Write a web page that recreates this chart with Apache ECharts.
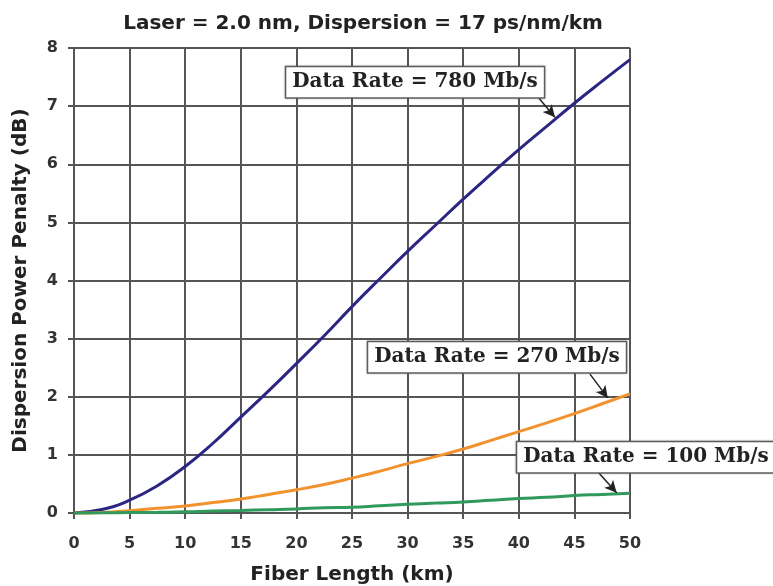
<!DOCTYPE html>
<html><head><meta charset="utf-8">
<script src="https://cdn.jsdelivr.net/npm/echarts@6/dist/echarts.min.js"></script>
<style>html,body{margin:0;padding:0;background:#fff}#c{width:773px;height:586px}</style>
</head><body><div id="c"></div>
<script>
const title = 'Laser = 2.0 nm, Dispersion = 17 ps/nm/km';
const xName = 'Fiber Length (km)';
const yName = 'Dispersion Power Penalty (dB)';
const lengths = [0, 2.5, 5, 7.5, 10, 12.5, 15, 17.5, 20, 22.5, 25, 27.5, 30, 32.5, 35, 37.5, 40, 42.5, 45, 47.5, 50];
const rate780 = [0, 0.06, 0.22, 0.47, 0.8, 1.2, 1.65, 2.1, 2.57, 3.05, 3.55, 4.03, 4.5, 4.95, 5.4, 5.83, 6.25, 6.65, 7.05, 7.43, 7.8];
const rate270 = [0, 0.01, 0.04, 0.08, 0.12, 0.18, 0.24, 0.32, 0.4, 0.49, 0.6, 0.72, 0.85, 0.97, 1.1, 1.25, 1.4, 1.55, 1.71, 1.88, 2.05];
const rate100 = [0, 0.003, 0.008, 0.013, 0.02, 0.035, 0.045, 0.057, 0.07, 0.09, 0.1, 0.125, 0.15, 0.17, 0.19, 0.22, 0.25, 0.27, 0.3, 0.32, 0.34];
const labels = ['Data Rate = 780 Mb/s', 'Data Rate = 270 Mb/s', 'Data Rate = 100 Mb/s'];
const labelAt = [[30.67, 7.41], [38.04, 2.68], [51.44, 0.96]];
const arrowFrom = [[41.7, 7.16], [46.4, 2.39], [47.1, 0.71]];
const arrowTo = [[43.25, 6.81], [48.0, 1.98], [48.8, 0.35]];
const colors = ['#2b2583', '#f2922e', '#2f9a5c'];

const chart = echarts.init(document.getElementById('c'));
const sets = [rate780, rate270, rate100];
const font = 'DejaVu Sans';
const series = sets.map((d, i) => ({
  type: 'line', data: lengths.map((x, j) => [x, d[j]]), smooth: true, showSymbol: false,
  lineStyle: {color: colors[i], width: 3}, clip: false, z: 3,
  markLine: {
    silent: true, symbol: ['none', 'arrow'], symbolSize: [9, 12],
    lineStyle: {color: '#222', width: 1.5, type: 'solid'}, label: {show: false},
    data: [[{coord: arrowFrom[i]}, {coord: arrowTo[i]}]]
  }
}));

const axisCommon = {
  nameLocation: 'middle',
  nameTextStyle: {fontFamily: font, fontWeight: 'bold', fontSize: 20, color: '#222'},
  axisLine: {show: true, lineStyle: {color: '#555', width: 2}},
  axisTick: {show: true, length: 6, lineStyle: {color: '#555', width: 2}},
  splitLine: {show: true, lineStyle: {color: '#555', width: 2}}
};
const labelStyle = {fontFamily: font, fontWeight: 'bold', fontSize: 16, color: '#333'};

chart.setOption({
  animation: false,
  title: {text: title, left: 358, top: 9, textAlign: 'center',
    textStyle: {fontFamily: font, fontWeight: 'bold', fontSize: 20, color: '#222'}},
  grid: {left: 74, right: 143, top: 48, bottom: 73, containLabel: false, outerBoundsMode: 'none'},
  xAxis: Object.assign({type: 'value', min: 0, max: 50, interval: 5, name: xName, nameGap: 52,
    axisLabel: Object.assign({margin: 23}, labelStyle)}, axisCommon),
  yAxis: Object.assign({type: 'value', min: 0, max: 8, interval: 1, name: yName, nameGap: 43,
    axisLabel: Object.assign({margin: 16}, labelStyle)}, axisCommon),
  series: series
});

const graphics = labels.map((t, i) => {
  const p = chart.convertToPixel({gridIndex: 0}, labelAt[i]);
  return {
    type: 'text', x: p[0], y: p[1], z: 10,
    style: {text: t, font: 'bold 20px "DejaVu Serif"', fill: '#222', align: 'center', verticalAlign: 'middle',
      backgroundColor: '#fff', borderColor: '#666', borderWidth: 1.5, padding: [6, 6, 4, 6],
      shadowColor: 'rgba(0,0,0,0.3)', shadowBlur: 2}
  };
});
chart.setOption({graphic: graphics});
</script></body></html>
